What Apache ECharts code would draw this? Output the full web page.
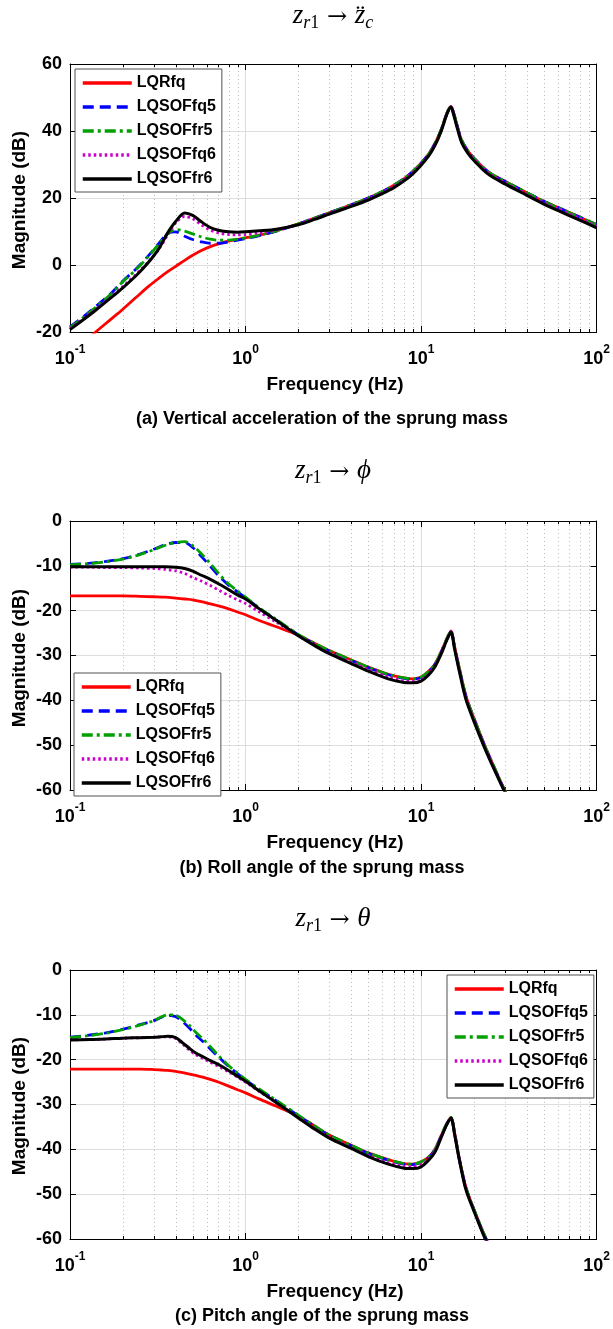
<!DOCTYPE html>
<html><head><meta charset="utf-8">
<script src="https://cdn.jsdelivr.net/npm/echarts@6/dist/echarts.min.js"></script>
<style>html,body{margin:0;padding:0;background:#fff}#c{width:613px;height:1329px}</style>
</head><body><div id="c"></div>
<script>
// ---------------- DATA ----------------
const SERIES_NAMES = ['LQRfq', 'LQSOFfq5', 'LQSOFfr5', 'LQSOFfq6', 'LQSOFfr6'];
const X_TICKS = [0.1, 1, 10, 100];
const MINOR_TICKS = [0.2,0.3,0.4,0.5,0.6,0.7,0.8,0.9, 2,3,4,5,6,7,8,9, 20,30,40,50,60,70,80,90];
const Y_TICKS_A = [-20, 0, 20, 40, 60];
const Y_TICKS_BC = [-60, -50, -40, -30, -20, -10, 0];

// (a) vertical acceleration
const FREQ_A = [0.1,0.12,0.14,0.17,0.2,0.24,0.28,0.32,0.36,0.4,0.45,0.5,0.56,0.63,0.71,0.8,0.9,1.0,1.2,1.5,2,2.5,3,4,5,6,7,8,9,10,11,12,13,13.7,14.3,14.8,15.3,16,17,18.5,20,24,30,40,50,60,80,100];
const A_LQRfq    = [-26.5,-23.0,-20.0,-16.3,-13.2,-9.5,-6.4,-4.0,-2.0,-0.4,1.4,2.9,4.3,5.5,6.4,7.1,7.6,8.1,8.9,10.2,12.3,14.1,15.6,18.0,20.0,21.9,23.8,25.8,28.0,30.4,33.0,36.3,40.3,43.8,46.3,47.3,45.5,41.8,37.3,34.0,31.9,27.9,25.0,21.6,19.0,17.2,14.3,12.0];
const A_LQSOFfq5 = [-18.5,-15.3,-12.4,-8.6,-4.8,-1.0,2.8,6.4,9.4,9.9,8.6,7.6,6.9,6.5,6.5,6.9,7.4,7.9,8.8,10.1,12.2,14.1,15.6,18.0,20.0,21.9,23.8,25.8,28.0,30.4,33.0,36.3,40.3,43.8,46.3,47.3,45.5,41.8,37.3,34.0,31.9,27.9,25.0,21.6,19.0,17.2,14.3,12.0];
const A_LQSOFfr5 = [-18.7,-15.5,-12.6,-8.8,-5.0,-1.2,2.6,6.2,9.3,10.6,10.1,9.3,8.4,7.7,7.4,7.4,7.7,8.1,8.9,10.2,12.3,14.1,15.6,18.0,20.0,21.9,23.8,25.8,28.0,30.4,33.0,36.3,40.3,43.8,46.3,47.3,45.5,41.8,37.3,34.0,31.9,27.9,25.0,21.6,19.0,17.2,14.3,12.0];
const A_LQSOFfq6 = [-19.0,-15.9,-13.2,-9.6,-6.4,-2.6,1.0,4.6,9.0,12.6,14.5,13.8,12.0,10.4,9.5,9.1,9.0,9.1,9.6,10.4,12.1,13.9,15.4,17.8,19.7,21.6,23.5,25.5,27.7,30.1,32.7,36.0,40.1,43.7,46.2,47.3,45.3,41.6,37.0,33.7,31.6,27.6,24.6,21.2,18.6,16.8,13.9,11.5];
const A_LQSOFfr6 = [-19.3,-16.2,-13.5,-9.9,-6.8,-3.0,0.8,4.8,9.6,13.0,15.5,14.8,12.9,11.2,10.3,9.9,9.8,9.9,10.2,10.7,12.0,13.7,15.2,17.5,19.4,21.3,23.1,25.1,27.3,29.8,32.4,35.7,39.9,43.5,46.1,47.2,45.0,41.2,36.6,33.3,31.2,27.2,24.2,20.8,18.2,16.3,13.4,11.1];

// (b) roll angle
const FREQ_B = [0.1,0.13,0.16,0.2,0.25,0.3,0.35,0.4,0.45,0.5,0.56,0.63,0.71,0.8,0.9,1.0,1.2,1.5,2,2.5,3,4,5,6.5,8,9,10,11,12,13,14,14.8,15.5,16.5,18,20,23,26,30,35];
const B_LQRfq    = [-16.7,-16.7,-16.7,-16.7,-16.8,-16.9,-17.0,-17.2,-17.4,-17.6,-18.0,-18.5,-19.0,-19.6,-20.3,-20.9,-22.2,-23.6,-25.5,-27.4,-28.9,-31.0,-32.6,-34.2,-35.0,-35.2,-34.8,-33.6,-31.9,-29.2,-26.3,-24.5,-28.0,-32.8,-39.0,-44.0,-50.0,-54.8,-60.1,-65.0];
const B_LQSOFfq5 = [-9.7,-9.4,-9.0,-8.4,-7.4,-6.3,-5.3,-4.8,-4.8,-5.9,-7.9,-10.1,-12.4,-14.3,-15.8,-17.1,-19.5,-22.1,-25.4,-27.5,-29.0,-31.1,-32.7,-34.3,-35.1,-35.3,-34.9,-33.7,-32.0,-29.3,-26.4,-24.6,-28.1,-32.9,-39.1,-44.1,-50.1,-54.9,-60.2,-65.1];
const B_LQSOFfr5 = [-9.8,-9.5,-9.1,-8.5,-7.5,-6.4,-5.4,-4.8,-4.6,-5.5,-7.3,-9.5,-11.9,-14.0,-15.6,-17.0,-19.4,-22.0,-25.3,-27.4,-28.9,-31.0,-32.6,-34.2,-35.0,-35.2,-34.8,-33.6,-31.9,-29.2,-26.3,-24.5,-28.0,-32.8,-39.0,-44.0,-50.0,-54.8,-60.1,-65.0];
const B_LQSOFfq6 = [-10.3,-10.3,-10.4,-10.4,-10.5,-10.6,-10.8,-11.1,-11.7,-12.6,-13.4,-14.4,-15.5,-16.6,-17.6,-18.4,-20.3,-22.6,-25.6,-27.8,-29.4,-31.5,-33.1,-34.8,-35.7,-35.8,-35.4,-34.1,-32.3,-29.5,-26.5,-24.7,-28.3,-33.2,-39.5,-44.4,-50.4,-55.1,-60.4,-65.5];
const B_LQSOFfr6 = [-10.2,-10.2,-10.2,-10.2,-10.2,-10.2,-10.2,-10.3,-10.6,-11.2,-12.1,-13.0,-14.1,-15.3,-16.5,-17.4,-19.6,-22.2,-25.6,-27.9,-29.6,-31.8,-33.5,-35.2,-36.0,-36.1,-35.7,-34.4,-32.5,-29.7,-26.6,-24.8,-28.5,-33.5,-39.8,-44.7,-50.6,-55.3,-60.5,-66.0];

// (c) pitch angle
const FREQ_C = [0.1,0.13,0.16,0.2,0.25,0.3,0.33,0.36,0.4,0.44,0.48,0.52,0.57,0.63,0.71,0.8,0.9,1.0,1.2,1.5,2,2.5,3,4,5,6.5,8,9,10,11,12,13,14,14.8,15.5,16.5,18,20,23,26];
const C_LQRfq    = [-22.1,-22.1,-22.1,-22.1,-22.1,-22.2,-22.3,-22.4,-22.6,-22.9,-23.2,-23.5,-23.9,-24.4,-25.1,-25.9,-26.7,-27.4,-28.8,-30.4,-32.6,-34.9,-36.8,-39.1,-40.8,-42.3,-43.2,-43.3,-42.8,-41.8,-40.0,-37.0,-34.3,-32.9,-36.2,-42.0,-48.5,-53.4,-59.2,-63.5];
const C_LQSOFfq5 = [-15.0,-14.5,-14.0,-13.2,-12.2,-11.3,-10.6,-10.1,-10.4,-11.6,-13.0,-14.5,-15.9,-17.6,-19.6,-21.5,-23.1,-24.5,-26.7,-29.2,-32.5,-35.0,-36.9,-39.2,-40.9,-42.4,-43.3,-43.4,-42.9,-41.9,-40.1,-37.1,-34.4,-33.0,-36.3,-42.1,-48.6,-53.5,-59.3,-63.6];
const C_LQSOFfr5 = [-15.1,-14.6,-14.1,-13.3,-12.3,-11.3,-10.5,-10.0,-10.1,-11.1,-12.4,-13.9,-15.3,-17.1,-19.3,-21.3,-23.0,-24.4,-26.6,-29.1,-32.4,-34.9,-36.8,-39.1,-40.8,-42.3,-43.2,-43.3,-42.8,-41.8,-40.0,-37.0,-34.3,-32.9,-36.2,-42.0,-48.5,-53.4,-59.2,-63.5];
const C_LQSOFfq6 = [-15.6,-15.5,-15.4,-15.2,-15.1,-15.0,-14.9,-14.9,-15.3,-16.6,-17.9,-18.9,-19.7,-20.6,-21.6,-22.7,-23.9,-25.0,-27.1,-29.6,-32.9,-35.4,-37.3,-39.6,-41.4,-43.0,-43.8,-43.9,-43.4,-42.2,-40.3,-37.2,-34.4,-33.0,-36.4,-42.2,-48.8,-53.6,-59.5,-63.8];
const C_LQSOFfr6 = [-15.6,-15.5,-15.4,-15.2,-15.1,-15.0,-14.9,-14.8,-15.1,-16.3,-17.5,-18.5,-19.3,-20.2,-21.2,-22.4,-23.7,-24.8,-27.0,-29.6,-33.0,-35.6,-37.5,-39.8,-41.6,-43.3,-44.2,-44.3,-43.9,-42.5,-40.6,-37.4,-34.5,-33.0,-36.6,-42.3,-49.0,-53.8,-59.7,-64.0];

// ---------------- LAYOUT / STYLE ----------------
const SANS = 'Liberation Sans, Arial, Helvetica, sans-serif';
const SERIF = 'Liberation Serif, DejaVu Serif, serif';
const LINE_STYLES = [
  { color: '#ff0000', type: 'solid', width: 2.8 },
  { color: '#0000ff', type: [11, 6], width: 2.8 },
  { color: '#00a000', type: [11, 4, 3, 4], width: 2.8 },
  { color: '#cc00cc', type: [2.5, 3], width: 2.8 },
  { color: '#000000', type: 'solid', width: 3 }
];
const PANELS = [
  { freq: FREQ_A, values: [A_LQRfq, A_LQSOFfq5, A_LQSOFfr5, A_LQSOFfq6, A_LQSOFfr6], yTicks: Y_TICKS_A,
    grid: { left: 70, top: 64, width: 529, height: 268 },
    legend: { left: 75, top: 69 } },
  { freq: FREQ_B, values: [B_LQRfq, B_LQSOFfq5, B_LQSOFfr5, B_LQSOFfq6, B_LQSOFfr6], yTicks: Y_TICKS_BC,
    grid: { left: 70, top: 521, width: 529, height: 269 },
    legend: { left: 74, top: 673 } },
  { freq: FREQ_C, values: [C_LQRfq, C_LQSOFfq5, C_LQSOFfr5, C_LQSOFfq6, C_LQSOFfr6], yTicks: Y_TICKS_BC,
    grid: { left: 70, top: 970, width: 529, height: 269 },
    legend: { left: 447, top: 975 } }
];
const TITLES = [
  { text: '{i|z}{s|r}{n|1}{a| → }{i|z\u0308}{s|c}', x: 333, y: 19 },
  { text: '{i|z}{s|r}{n|1}{a| → }{i|\u03D5}', x: 333, y: 474 },
  { text: '{i|z}{s|r}{n|1}{a| → }{i|\u03B8}', x: 333, y: 922 }
];
const CAPTIONS = [
  { text: '(a) Vertical acceleration of the sprung mass', x: 322, y: 419 },
  { text: '(b) Roll angle of the sprung mass', x: 322, y: 868 },
  { text: '(c) Pitch angle of the sprung mass', x: 322, y: 1316 }
];
const XNAME_Y = [385, 843, 1292];
const YNAME_Y = [200, 658, 1106];

// ---------------- BUILD ----------------
const grids = [], xAxes = [], yAxes = [], series = [], legends = [], graphics = [];
PANELS.forEach((p, i) => {
  const ymin = p.yTicks[0], ymax = p.yTicks[p.yTicks.length - 1];
  const step = p.yTicks[1] - p.yTicks[0];
  grids.push(Object.assign({ containLabel: false }, p.grid));
  const xBase = {
    type: 'log', logBase: 10, gridIndex: i, min: X_TICKS[0], max: X_TICKS[X_TICKS.length - 1],
    axisLine: { show: true, onZero: false, lineStyle: { color: '#000', width: 1 } },
    axisTick: { show: true, inside: true, length: 6, lineStyle: { color: '#000' } },
    minorTick: { show: false }, minorSplitLine: { show: false }
  };
  xAxes.push(Object.assign({}, xBase, {
    position: 'bottom',
    splitLine: { show: true, lineStyle: { color: '#dedede', width: 1 } },
    axisLabel: {
      show: true, margin: 10, showMinLabel: true, showMaxLabel: true,
      formatter: v => '{b|10}{s|' + Math.round(Math.log10(v)) + '}',
      rich: {
        b: { fontSize: 18, fontWeight: 'bold', fontFamily: SANS, color: '#000', lineHeight: 26, verticalAlign: 'bottom' },
        s: { fontSize: 12, fontWeight: 'bold', fontFamily: SANS, color: '#000', lineHeight: 12, verticalAlign: 'top', padding: [2, 0, 0, 0] }
      }
    }
  }));
  xAxes.push(Object.assign({}, xBase, {
    position: 'top', splitLine: { show: false }, axisLabel: { show: false }
  }));
  const yBase = {
    type: 'value', gridIndex: i, min: ymin, max: ymax, interval: step,
    axisLine: { show: true, onZero: false, lineStyle: { color: '#000', width: 1 } },
    axisTick: { show: true, inside: true, length: 6, lineStyle: { color: '#000' } }
  };
  yAxes.push(Object.assign({}, yBase, {
    position: 'left',
    splitLine: { show: true, lineStyle: { color: '#dedede', width: 1 } },
    axisLabel: { show: true, margin: 8, fontSize: 18, fontWeight: 'bold', fontFamily: SANS, color: '#000' }
  }));
  yAxes.push(Object.assign({}, yBase, {
    position: 'right', splitLine: { show: false }, axisLabel: { show: false }
  }));

  // minor (2..9) dotted grid lines and minor ticks, positioned through the axes
  series.push({
    type: 'custom', xAxisIndex: 2 * i, yAxisIndex: 2 * i, silent: true, z: 1, clip: false,
    data: MINOR_TICKS.map(v => [v]),
    encode: { x: 0 },
    renderItem: (params, api) => {
      const f = api.value(0);
      const p0 = api.coord([f, ymin]);
      const p1 = api.coord([f, ymax]);
      const x = Math.round(p0[0]) + 0.5;
      return { type: 'group', children: [
        { type: 'line', shape: { x1: x, y1: p0[1], x2: x, y2: p1[1] }, style: { stroke: '#bdbdbd', lineWidth: 1, lineDash: [1, 3] } },
        { type: 'line', shape: { x1: x, y1: p0[1], x2: x, y2: p0[1] - 3 }, style: { stroke: '#000', lineWidth: 1 } },
        { type: 'line', shape: { x1: x, y1: p1[1], x2: x, y2: p1[1] + 3 }, style: { stroke: '#000', lineWidth: 1 } }
      ] };
    }
  });

  SERIES_NAMES.forEach((name, k) => {
    series.push({
      name, type: 'line', xAxisIndex: 2 * i, yAxisIndex: 2 * i,
      data: p.freq.map((f, j) => [f, p.values[k][j]]),
      symbol: 'none', showSymbol: false, smooth: 0.3, clip: true, z: 2 + k,
      lineStyle: LINE_STYLES[k], itemStyle: { color: LINE_STYLES[k].color },
      emphasis: { disabled: true }, animation: false
    });
  });

  legends.push({
    data: SERIES_NAMES, orient: 'vertical', left: p.legend.left, top: p.legend.top,
    itemWidth: 49, itemHeight: 14, itemGap: 8, padding: [6, 6, 5, 6],
    borderColor: '#505050', borderWidth: 1, backgroundColor: '#fff', selectedMode: false,
    itemStyle: { color: 'rgba(0,0,0,0)', borderColor: 'rgba(0,0,0,0)', borderWidth: 0, opacity: 0 },
    lineStyle: { width: 3.5 },
    textStyle: { fontSize: 16, fontWeight: 'bold', fontFamily: SANS, color: '#000', lineHeight: 14 }
  });

  const t = TITLES[i];
  graphics.push({
    type: 'text', x: t.x, y: t.y, silent: true,
    style: {
      text: t.text, align: 'center', verticalAlign: 'middle',
      rich: {
        i: { fontSize: 27, fontStyle: 'italic', fontFamily: SERIF, fill: '#000', lineHeight: 27, padding: [0, 0, 3, 0], verticalAlign: 'bottom' },
        s: { fontSize: 18, fontStyle: 'italic', fontFamily: SERIF, fill: '#000', lineHeight: 18, verticalAlign: 'bottom' },
        n: { fontSize: 18, fontFamily: SERIF, fill: '#000', lineHeight: 18, verticalAlign: 'bottom' },
        a: { fontSize: 24, fontFamily: 'DejaVu Serif, serif', fill: '#000', lineHeight: 27, padding: [0, 0, 3, 0], verticalAlign: 'bottom' }
      }
    }
  });
  const c = CAPTIONS[i];
  graphics.push({ type: 'text', x: c.x, y: c.y, silent: true,
    style: { text: c.text, align: 'center', verticalAlign: 'middle', fontSize: 18, fontWeight: 'bold', fontFamily: SANS, fill: '#000' } });
  graphics.push({ type: 'text', x: 335, y: XNAME_Y[i], silent: true,
    style: { text: 'Frequency (Hz)', align: 'center', verticalAlign: 'middle', fontSize: 19, fontWeight: 'bold', fontFamily: SANS, fill: '#000' } });
  graphics.push({ type: 'text', x: 20, y: YNAME_Y[i], rotation: Math.PI / 2, silent: true,
    style: { text: 'Magnitude (dB)', align: 'center', verticalAlign: 'middle', fontSize: 19, fontWeight: 'bold', fontFamily: SANS, fill: '#000' } });
});

const chart = echarts.init(document.getElementById('c'), null, { renderer: 'canvas' });
chart.setOption({
  backgroundColor: '#fff', animation: false,
  grid: grids, xAxis: xAxes, yAxis: yAxes, series, legend: legends, graphic: graphics
});
</script></body></html>
